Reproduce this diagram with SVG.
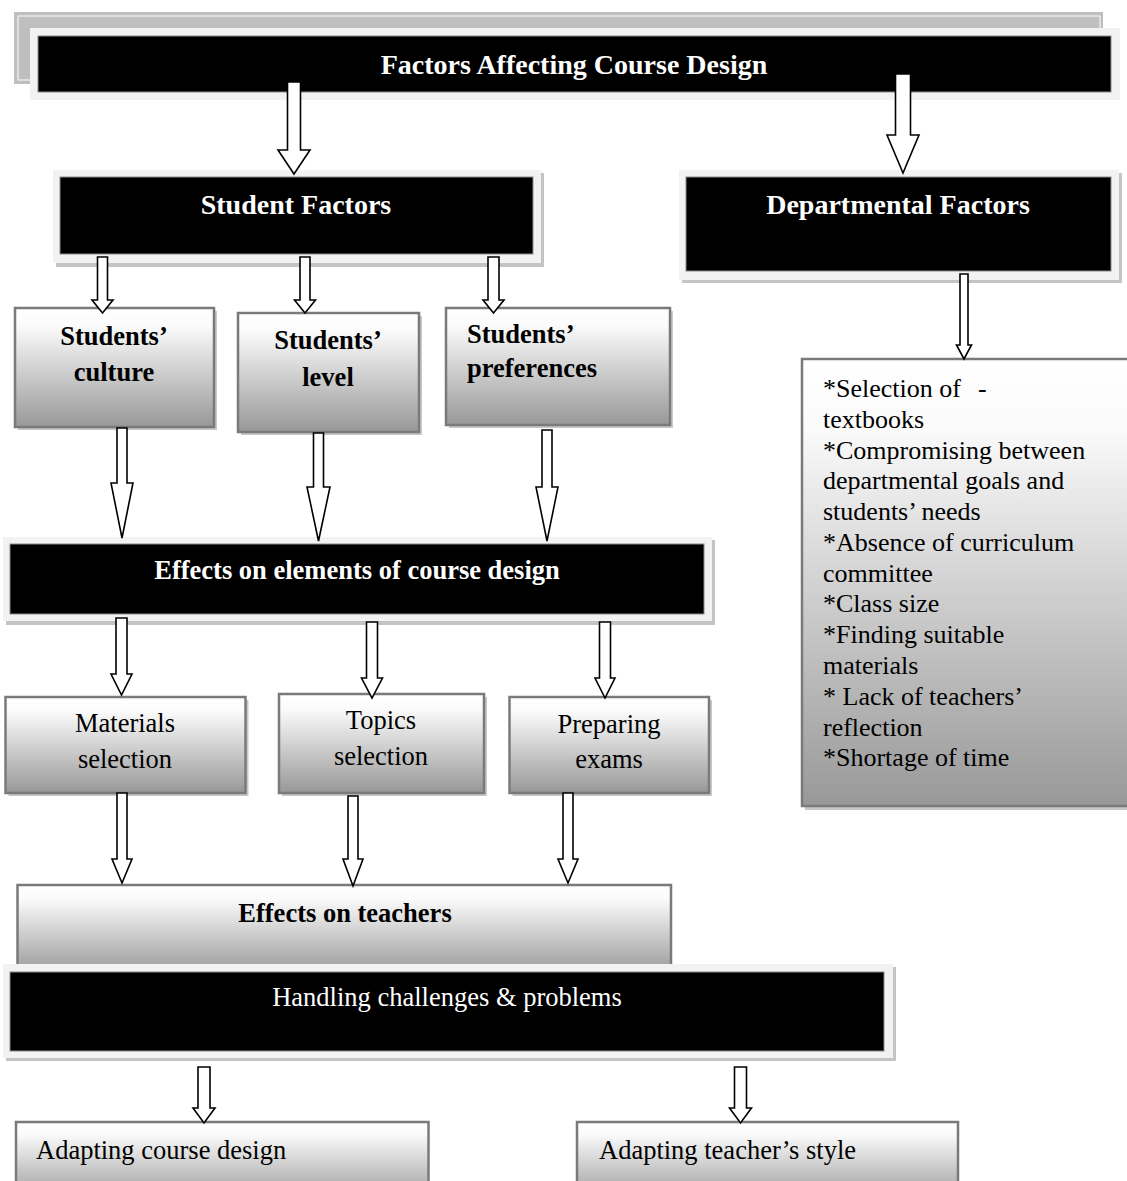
<svg xmlns="http://www.w3.org/2000/svg" width="1127" height="1181" viewBox="0 0 1127 1181">
<defs>
<linearGradient id="g" x1="0" y1="0" x2="0" y2="1">
<stop offset="0" stop-color="#ffffff"/>
<stop offset="0.15" stop-color="#fbfbfb"/>
<stop offset="1" stop-color="#989898"/>
</linearGradient>
<style>
text{font-family:"Liberation Serif","Times New Roman",serif;}
.hb{font-size:28px;font-weight:bold;fill:#fff;text-anchor:middle;}
.hb2{font-size:26.5px;font-weight:bold;fill:#fff;text-anchor:middle;}
.hr{font-size:26.5px;fill:#fff;text-anchor:middle;}
.bb{font-size:26.5px;font-weight:bold;fill:#000;text-anchor:middle;}
.br{font-size:26.5px;fill:#000;text-anchor:middle;}
.lr{font-size:26px;fill:#000;}
.frame{fill:#f2f2f2;}
.fsh{fill:#c4c4c4;}
.blk{fill:#000;stroke:#8a8a8a;stroke-width:1;}
.box{fill:url(#g);stroke:#7a7a7a;stroke-width:2.5;}
.bsh{fill:#c8c8c8;}
.arr{fill:#fff;stroke:#000;stroke-width:1.6;stroke-linejoin:miter;}
</style>
</defs>

<!-- Title -->
<g id="title">
<rect x="14" y="12" width="1089" height="72" fill="#bfbfbf"/>
<rect x="18" y="16" width="1082" height="64" fill="none" stroke="#f4f4f4" stroke-width="1.2"/>
<rect x="30" y="28" width="1090" height="72" class="frame"/>
<rect x="38" y="36" width="1073" height="56" class="blk"/>
<text x="574" y="74" class="hb">Factors Affecting Course Design</text>
</g>

<g id="student-factors">
<rect x="56" y="173" width="488" height="94" class="fsh"/>
<rect x="53" y="170" width="488" height="93" class="frame"/>
<rect x="60" y="177" width="473" height="77" class="blk"/>
<text x="296" y="214" class="hb">Student Factors</text>
</g>

<g id="departmental-factors">
<rect x="682" y="173" width="440" height="110" class="fsh"/>
<rect x="679" y="170" width="440" height="110" class="frame"/>
<rect x="686" y="177" width="425" height="94" class="blk"/>
<text x="898" y="214" class="hb">Departmental Factors</text>
</g>

<g id="students-culture">
<rect x="18" y="311" width="199" height="119" class="bsh"/>
<rect x="15" y="308" width="199" height="119" class="box"/>
<text x="114" y="345" class="bb">Students’</text>
<text x="114" y="381" class="bb">culture</text>
</g>

<g id="students-level">
<rect x="241" y="316" width="181" height="119" class="bsh"/>
<rect x="238" y="313" width="181" height="119" class="box"/>
<text x="328" y="349" class="bb">Students’</text>
<text x="328" y="386" class="bb">level</text>
</g>

<g id="students-preferences">
<rect x="449" y="311" width="224" height="117" class="bsh"/>
<rect x="446" y="308" width="224" height="117" class="box"/>
<text x="467" y="343" class="bb" style="text-anchor:start">Students’</text>
<text x="467" y="377" class="bb" style="text-anchor:start">preferences</text>
</g>

<g id="departmental-list">
<rect x="805" y="362" width="340" height="448" class="bsh"/>
<rect x="802" y="359" width="340" height="447" class="box"/>
<text class="lr">
<tspan x="823" y="397">*Selection of</tspan><tspan x="978" y="397">-</tspan>
<tspan x="823" y="428">textbooks</tspan>
<tspan x="823" y="458.5">*Compromising between</tspan>
<tspan x="823" y="489">departmental goals and</tspan>
<tspan x="823" y="520">students’ needs</tspan>
<tspan x="823" y="551">*Absence of curriculum</tspan>
<tspan x="823" y="581.5">committee</tspan>
<tspan x="823" y="612">*Class size</tspan>
<tspan x="823" y="643">*Finding suitable</tspan>
<tspan x="823" y="674">materials</tspan>
<tspan x="823" y="705">* Lack of teachers’</tspan>
<tspan x="823" y="735.5">reflection</tspan>
<tspan x="823" y="766">*Shortage of time</tspan>
</text>
</g>

<g id="effects-elements">
<rect x="6" y="540" width="709" height="85" class="fsh"/>
<rect x="3" y="537" width="709" height="84" class="frame"/>
<rect x="10" y="544" width="694" height="70" class="blk"/>
<text x="357" y="579" class="hb2">Effects on elements of course design</text>
</g>

<g id="materials-selection">
<rect x="8.5" y="700" width="240" height="96" class="bsh"/>
<rect x="5.5" y="697" width="240" height="96" class="box"/>
<text x="125" y="732" class="br">Materials</text>
<text x="125" y="768" class="br">selection</text>
</g>

<g id="topics-selection">
<rect x="282" y="697" width="205" height="99" class="bsh"/>
<rect x="279" y="694" width="205" height="99" class="box"/>
<text x="381" y="729" class="br">Topics</text>
<text x="381" y="765" class="br">selection</text>
</g>

<g id="preparing-exams">
<rect x="512.5" y="700" width="199.5" height="96" class="bsh"/>
<rect x="509.5" y="697" width="199.5" height="96" class="box"/>
<text x="609" y="733" class="br">Preparing</text>
<text x="609" y="768" class="br">exams</text>
</g>

<g id="effects-teachers">
<rect x="17.5" y="885" width="653.5" height="90" class="box"/>
<text x="345" y="922" class="bb">Effects on teachers</text>
</g>

<g id="handling">
<rect x="6" y="967" width="890" height="94" class="fsh"/>
<rect x="3" y="964" width="890" height="94" class="frame"/>
<rect x="10" y="972" width="874" height="79" class="blk"/>
<text x="447" y="1006" class="hr">Handling challenges &amp; problems</text>
</g>

<g id="adapting-course">
<rect x="16" y="1122" width="412.5" height="80" class="box"/>
<text x="36" y="1159" class="br" style="text-anchor:start">Adapting course design</text>
</g>

<g id="adapting-style">
<rect x="577" y="1122" width="381" height="80" class="box"/>
<text x="599" y="1159" class="br" style="text-anchor:start">Adapting teacher’s style</text>
</g>

<g id="connectors">
<polygon class="arr" points="287.5,82 300.5,82 300.5,150 310,150 294,174 278,150 287.5,150"/>
<polygon class="arr" points="895.5,74 910.5,74 910.5,135 919,135 903,173 887,135 895.5,135"/>
<polygon class="arr" points="97.5,257 107.5,257 107.5,300 113,300 102.5,313 92,300 97.5,300"/>
<polygon class="arr" points="300,257 310,257 310,300 315.5,300 305,313 294.5,300 300,300"/>
<polygon class="arr" points="488,257 499,257 499,300 504,300 493.5,313 483,300 488,300"/>
<polygon class="arr" points="960,274 968,274 968,345 971.5,345 964,359 956.5,345 960,345"/>
<polygon class="arr" points="117,428 127,428 127,483 133,483 122,538 111,483 117,483"/>
<polygon class="arr" points="313.5,433 323.5,433 323.5,487 330,487 318.5,541 307,487 313.5,487"/>
<polygon class="arr" points="542,430 552,430 552,487 558,487 547,541 536,487 542,487"/>
<polygon class="arr" points="116,618 127,618 127,674 132,674 121.5,695 111,674 116,674"/>
<polygon class="arr" points="366.5,622 377.5,622 377.5,678 382.5,678 372,698 361.5,678 366.5,678"/>
<polygon class="arr" points="599.5,622 610.5,622 610.5,678 615,678 605,698 595,678 599.5,678"/>
<polygon class="arr" points="117,793 127,793 127,859 132,859 122,883 112,859 117,859"/>
<polygon class="arr" points="348,796 358,796 358,859 363,859 353,886 343,859 348,859"/>
<polygon class="arr" points="563,793 573,793 573,859 578,859 568,883 558,859 563,859"/>
<polygon class="arr" points="198,1067 210,1067 210,1108 215,1108 204,1123 193,1108 198,1108"/>
<polygon class="arr" points="734.5,1067 746.5,1067 746.5,1108 751.5,1108 740.5,1123 729.5,1108 734.5,1108"/>
</g>
</svg>
